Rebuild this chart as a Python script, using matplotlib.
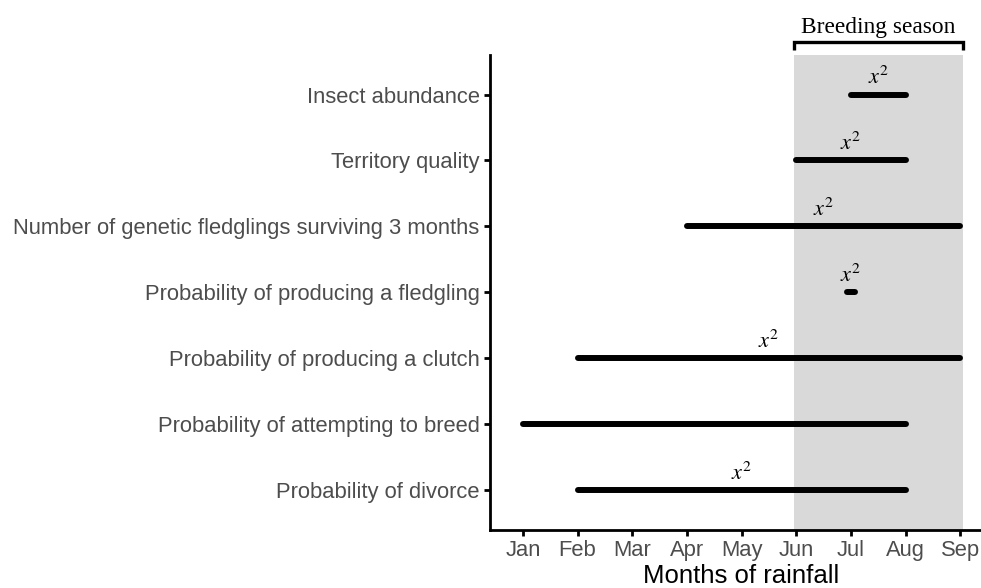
import matplotlib

matplotlib.use("Agg")
import matplotlib.pyplot as plt

plt.rcParams["font.family"] = ["Liberation Sans", "DejaVu Sans"]
plt.rcParams["mathtext.fontset"] = "stix"

months = ["Jan", "Feb", "Mar", "Apr", "May", "Jun", "Jul", "Aug", "Sep"]
responses = [
    "Probability of divorce",
    "Probability of attempting to breed",
    "Probability of producing a clutch",
    "Probability of producing a fledgling",
    "Number of genetic fledglings surviving 3 months",
    "Territory quality",
    "Insect abundance",
]
window_start = [2, 1, 2, 6.92, 4, 6, 7]
window_end = [8, 8, 9, 7.08, 9, 8, 8]
quadratic = [True, False, True, True, True, True, True]
season_start = 5.95
season_end = 9.05


def main():
    fig = plt.figure(figsize=(9.81, 5.88), dpi=100)
    ax = fig.add_axes([0.4995, 0.0986, 0.5005, 0.808])

    ax.axvspan(season_start, season_end, color="#d9d9d9", lw=0, zorder=0)

    for i, (s, e, q) in enumerate(zip(window_start, window_end, quadratic)):
        y = i + 1
        ax.plot([s, e], [y, y], color="black", lw=4.3, solid_capstyle="round", zorder=3)
        if q:
            ax.text((s + e) / 2, y + 0.09, r"$x^2$", ha="center", va="bottom",
                    fontsize=16, zorder=4)

    ax.set_xlim(0.4, 9.376)
    ax.set_ylim(0.4, 7.6)
    ax.set_xticks(range(1, len(months) + 1))
    ax.set_xticklabels(months)
    ax.set_yticks(range(1, len(responses) + 1))
    ax.set_yticklabels(responses)
    ax.tick_params(axis="both", labelsize=15.8, labelcolor="#4d4d4d", length=4.5,
                   width=2, color="black", pad=3)
    ax.tick_params(axis="x", pad=3)
    ax.set_xlabel("Months of rainfall", fontsize=18.5, va="baseline")
    ax.xaxis.set_label_coords(0.511, -0.112)

    for side in ["top", "right"]:
        ax.spines[side].set_visible(False)
    for side in ["left", "bottom"]:
        ax.spines[side].set_linewidth(2)

    # bracket for the breeding season
    ax.plot([season_start, season_start, season_end, season_end],
            [7.68, 7.8, 7.8, 7.68], color="black", lw=2.4, clip_on=False,
            solid_joinstyle="miter", solid_capstyle="butt")
    ax.text((season_start + season_end) / 2, 7.86, "Breeding season",
            ha="center", va="bottom", fontsize=16.8, family="Liberation Serif")

    fig.savefig("out.png", dpi=100)


if __name__ == "__main__":
    main()
